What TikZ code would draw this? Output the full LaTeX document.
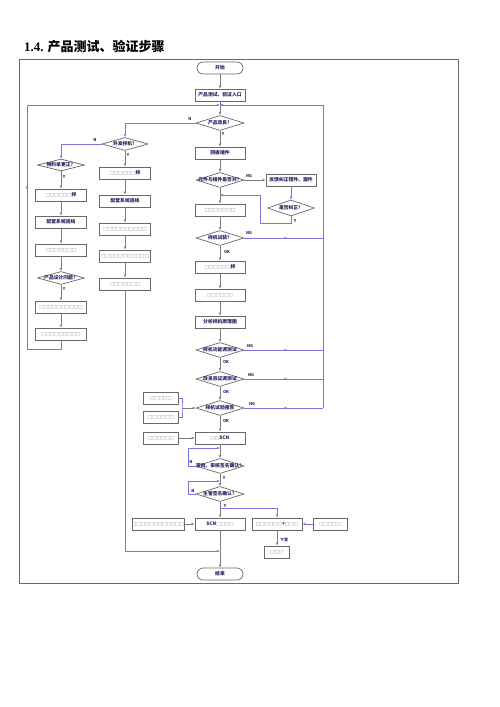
\documentclass[tikz,border=0pt]{standalone}
\usepackage{fontspec}
\usepackage{xcolor}
\usepackage{tikz}
\usetikzlibrary{shapes.geometric}
\usetikzlibrary{arrows.meta}
\usetikzlibrary{decorations.markings}
\tikzset{>={Latex[length=3pt,width=2.6pt]}}
\newfontfamily\cjk{Noto Sans CJK SC}
\newfontfamily\sqfont{DejaVu Sans}
\newfontfamily\ttlfont{Liberation Serif}
\definecolor{boxline}{RGB}{105,105,105}
\definecolor{connline}{RGB}{125,125,125}
\definecolor{loopline}{RGB}{118,118,222}
\definecolor{navytxt}{RGB}{35,35,95}
\definecolor{tofu}{RGB}{140,140,150}
\newcommand{\sq}[1]{{\sqfont\mdseries\fontsize{4.6}{5}\selectfont\color{tofu}#1}}

\begin{document}
\begin{tikzpicture}[x=1pt, y=-1pt]
\tikzset{midarrow/.style={postaction={decorate,decoration={markings,mark=at position #1 with {\arrow{>}}}}}}
\tikzset{
  stepbox/.style={draw=boxline, line width=0.7pt, fill=white, minimum width=50pt, minimum height=12pt, inner sep=0pt,
    font=\cjk\bfseries\fontsize{4.8}{5}\selectfont, text=navytxt},
  term/.style={stepbox, rounded corners=6pt, minimum width=46pt},
  decis/.style={diamond, draw=boxline, line width=0.7pt, fill=white, minimum width=48pt, minimum height=15pt, inner sep=0pt},
  dtext/.style={font=\cjk\bfseries\fontsize{4.8}{5}\selectfont, text=navytxt, inner sep=0pt},
  tag/.style={font=\cjk\bfseries\fontsize{4}{4.5}\selectfont, text=navytxt, inner sep=0pt},
  conn/.style={draw=connline, line width=0.9pt},
  loopln/.style={draw=loopline, line width=0.75pt},
}
\useasboundingbox (0,0) rectangle (500,707);

% title and frame
\node[anchor=base west, inner sep=0pt, font=\cjk\bfseries\fontsize{13}{15}\selectfont] (title) at (24,51) {{\ttlfont\bfseries 1.4.} 产品测试、验证步骤};
\draw[boxline, line width=0.8pt] (19,59) rectangle (458,583);

% main column
\node[term] (start) at (220,68) {开始};
\node[stepbox] (entry) at (220,95) {产品测试、验证入口};
\node[decis, label={[dtext]center:产品改良？}] (dimp) at (220,123) {};
\node[stepbox] (board) at (220,153) {回板插件};
\node[decis, label={[dtext]center:元件与插件是否对？}] (dpart) at (220,180) {};
\node[stepbox] (fix) at (291,180) {反馈纠正错件、漏件};
\node[decis, minimum width=47pt, minimum height=16pt, label={[dtext]center:是否纠正？}] (dfix) at (291,208) {};
\node[stepbox] (m1) at (220,210) {\sq{□□□□□□□}};
\node[decis, label={[dtext]center:样机试装？}] (dfit) at (220,238) {};
\node[stepbox] (m2) at (220,267) {\sq{□□□□□□}样};
\node[stepbox] (m3) at (220,295) {\sq{□□□□□□}};
\node[stepbox] (m4) at (220,322) {分析样机原理图};
\node[decis, label={[dtext]center:样机功能调测试}] (dfun) at (220,350) {};
\node[decis, label={[dtext]center:改良验证调测试}] (dver) at (220,379) {};
\node[decis, label={[dtext]center:样机试验报告}] (drep) at (220,408) {};
\node[stepbox] (scn) at (220,438) {\sq{□□}SCN};
\node[decis, label={[dtext]center:签批、审核签名确认？}] (dsig) at (220,466) {};
\node[decis, label={[dtext]center:主管签名确认？}] (dmgr) at (220,494) {};
\node[stepbox] (scnb) at (220,524) {SCN\sq{□□□□}};
\node[term] (stop) at (220,574) {结束};

% side boxes
\node[stepbox, minimum width=35pt] (in1) at (161,398) {\sq{□□□□□}};
\node[stepbox, minimum width=35pt] (in2) at (161,417) {\sq{□□□□□□}};
\node[stepbox, minimum width=35pt] (in3) at (161,438) {\sq{□□□□□□}};
\node[stepbox] (in4) at (158,524) {\sq{□□□□□□□□□□□□}};
\node[stepbox] (out1) at (277,524) {\sq{□□□□□□}+\sq{□□□}};
\node[stepbox, minimum width=34pt] (out2) at (330,524) {\sq{□□□□□}};
\node[stepbox, minimum width=25pt] (out3) at (277,552) {\sq{□□□}};

% left column
\node[decis, minimum width=47pt, minimum height=12pt, label={[dtext]center:物料单更正？}] (dbom) at (61,165) {};
\node[stepbox, minimum width=51pt] (a1) at (61,195) {\sq{□□□□□□}样};
\node[stepbox, minimum width=51pt] (a2) at (61,222) {配套系统连线};
\node[stepbox, minimum width=51pt] (a3) at (61,250) {\sq{□□□□□□□}};
\node[decis, minimum width=47pt, minimum height=13pt, label={[dtext]center:产品设计问题？}] (ddes) at (61,278) {};
\node[stepbox, minimum width=51pt] (a4) at (61,307) {\sq{□□□□□□□□□□}};
\node[stepbox, minimum width=51pt] (a5) at (61,334) {\sq{□□□□□□□□□}};

% second column
\node[decis, minimum width=46pt, minimum height=13pt, label={[dtext]center:外发样机？}] (dout) at (125,144) {};
\node[stepbox, minimum width=51pt] (b1) at (125,173) {\sq{□□□□□□}样};
\node[stepbox, minimum width=51pt] (b2) at (125,201) {配套系统连线};
\node[stepbox, minimum width=51pt] (b3) at (125,229) {\sq{□□□□□□□□□□}};
\node[stepbox, minimum width=51pt] (b4) at (125,256) {\sq{□□□□□□□□□□□}};
\node[stepbox, minimum width=51pt] (b5) at (125,284) {\sq{□□□□□□□}};

% loop corners
\coordinate (jn) at (220,105);
\coordinate (lt) at (27,105);
\coordinate (lb) at (27,349);
\coordinate (rt) at (323,105);
\coordinate (rb) at (323,408);
\coordinate (fb) at (260,223);
\coordinate (fj) at (220,195);
\coordinate (n1) at (188,448);
\coordinate (n2) at (188,481);
\coordinate (yb) at (220,508);
\coordinate (ex) at (220,551);
\coordinate (br) at (182,408);

% straight connectors
\foreach \a/\b in {start/entry, entry/dimp, dimp/board, board/dpart, dpart/m1, m1/dfit, dfit/m2, m2/m3, m3/m4,
  m4/dfun, dfun/dver, dver/drep, drep/scn, scn/dsig, dsig/dmgr, dmgr/scnb, scnb/stop,
  dbom/a1, a1/a2, a2/a3, a3/ddes, ddes/a4, a4/a5, dout/b1, b1/b2, b2/b3, b3/b4, b4/b5, out1/out3}
  \draw[conn, ->] (\a) -- (\b);
\draw[conn, ->] (dpart) -- (fix);
\draw[conn, ->] (in3) -- (scn);
\draw[conn, ->] (in4) -- (scnb);
\draw[conn, ->] (br) -- (drep);

% feedback lines
\draw[loopln, ->] (dimp.west) -| (dout.north);
\draw[loopln, ->] (dout.west) -| (dbom.north);
\draw[loopln, ->, midarrow=0.43] (a5.south) -- (a5.south |- lb) -- (lb) -- (lt) -- (jn);
\foreach \d in {dfit, dfun, dver, drep}
  \draw[loopln, midarrow=0.55] (\d.east) -- (\d.east -| rb);
\draw[loopln, ->] (rb) -- (rt) -- (jn);
\draw[loopln, ->] (fix) -- (dfix);
\draw[loopln, ->] (dfix.south) |- (fb) -- (fb |- fj) -- (fj);
\draw[loopln, ->] (dsig.west) -| (n1) -- (n1 -| dsig.north);
\draw[loopln, ->] (dmgr.west) -| (n2) -- (n2 -| dmgr.north);
\draw[loopln, ->] (yb) -| (out1.north);
\draw[loopln, ->] (out2) -- (out1);
\draw[loopln, ->] (b5.south) -- (b5.south |- ex) -- (ex);
\draw[loopln] (in1.east) -| (br) |- (in2.east);

% branch tags
\node[tag] (t1) at (190,119) {N};
\node[tag] (t2) at (223,134) {Y};
\node[tag] (t3) at (95,140) {N};
\node[tag] (t4) at (128,155) {Y};
\node[tag] (t5) at (64,177) {Y};
\node[tag] (t6) at (64,289) {Y};
\node[tag] (t7) at (249,176) {NG};
\node[tag] (t8) at (295,221) {Y};
\node[tag] (t9) at (249,233) {NG};
\node[tag] (t10) at (227,252) {OK};
\node[tag] (t11) at (250,346) {NG};
\node[tag] (t12) at (226,362) {OK};
\node[tag] (t13) at (251,375) {NG};
\node[tag] (t14) at (226,392) {OK};
\node[tag] (t15) at (252,404) {NG};
\node[tag] (t16) at (226,421) {OK};
\node[tag] (t17) at (191,462) {N};
\node[tag] (t18) at (224,478) {Y};
\node[tag] (t19) at (193,491) {N};
\node[tag] (t20) at (225,506) {Y};
\node[tag] (t21) at (284,540) {下发};
\end{tikzpicture}
\end{document}
